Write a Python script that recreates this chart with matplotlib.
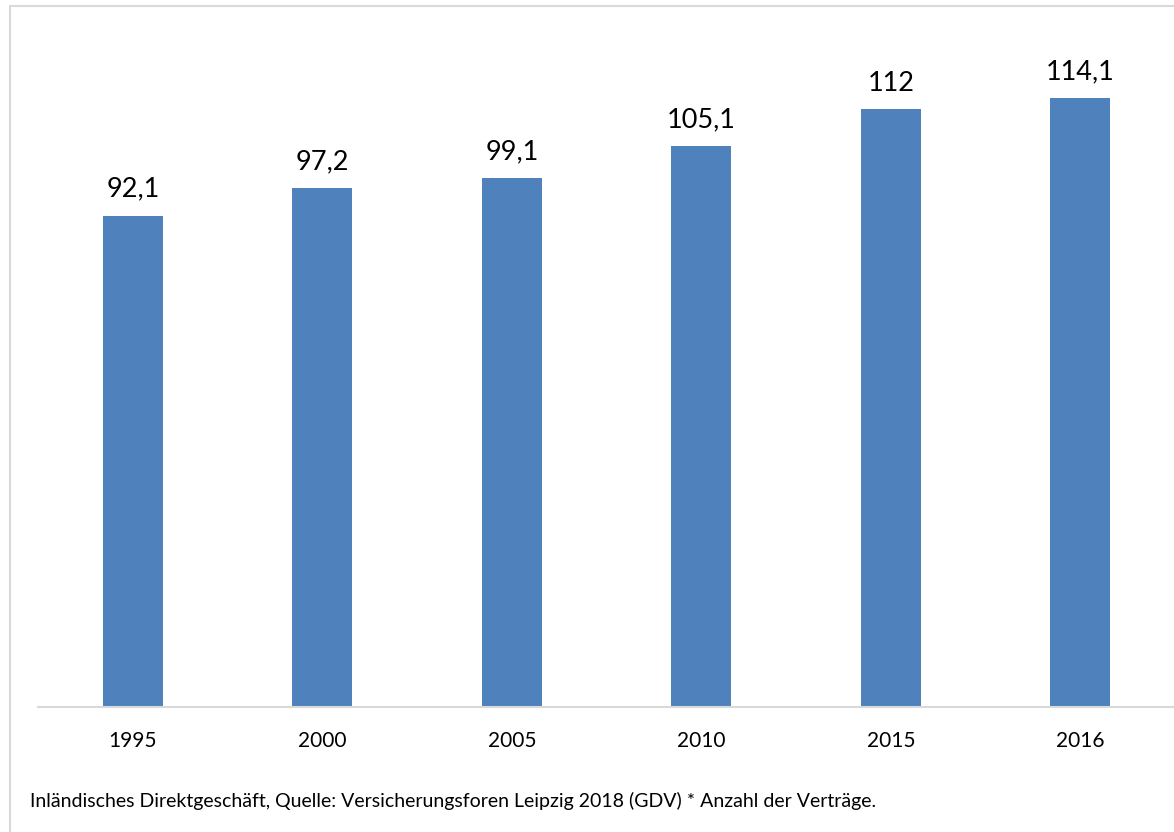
import matplotlib.pyplot as plt
from matplotlib.patches import Rectangle

# Daten
years = ['1995', '2000', '2005', '2010', '2015', '2016']
values = [92.1, 97.2, 99.1, 105.1, 112, 114.1]
labels = ['92,1', '97,2', '99,1', '105,1', '112', '114,1']
note = 'Inländisches Direktgeschäft, Quelle: Versicherungsforen Leipzig 2018 (GDV) * Anzahl der Verträge.'

plt.rcParams['font.family'] = ['Lato', 'DejaVu Sans']

W, H = 1174, 832
fig = plt.figure(figsize=(W / 100, H / 100), dpi=100)

# light frame around the chart area
fig.patches.append(Rectangle((10 / W, -0.1), 1.2, 1 - 6 / H + 0.1, transform=fig.transFigure,
                             fill=False, edgecolor='#d9d9d9', linewidth=1.5))

ax = fig.add_axes([38 / W, 1 - 707 / H, (W - 38) / W + 0.001, (707 - 40) / H])
x = range(len(years))
bars = ax.bar(x, values, width=0.316, color='#4F81BD')
ax.set_xlim(-0.5, 5.5)
ax.set_ylim(0, 125)

for b, lab in zip(bars, labels):
    ax.annotate(lab, (b.get_x() + b.get_width() / 2, b.get_height()), xytext=(0, 13.5),
                textcoords='offset points', ha='center', va='baseline', fontsize=19.5, color='black')

ax.set_xticks(list(x))
ax.set_xticklabels(years, fontsize=15)
ax.tick_params(axis='x', length=0, pad=17)
ax.set_yticks([])
for s in ['top', 'right', 'left']:
    ax.spines[s].set_visible(False)
ax.spines['bottom'].set_color('#d9d9d9')
ax.spines['bottom'].set_linewidth(1.5)

fig.text(30 / W, 1 - 807 / H, note, fontsize=14, ha='left', va='baseline')

fig.savefig('out.png', dpi=100)
